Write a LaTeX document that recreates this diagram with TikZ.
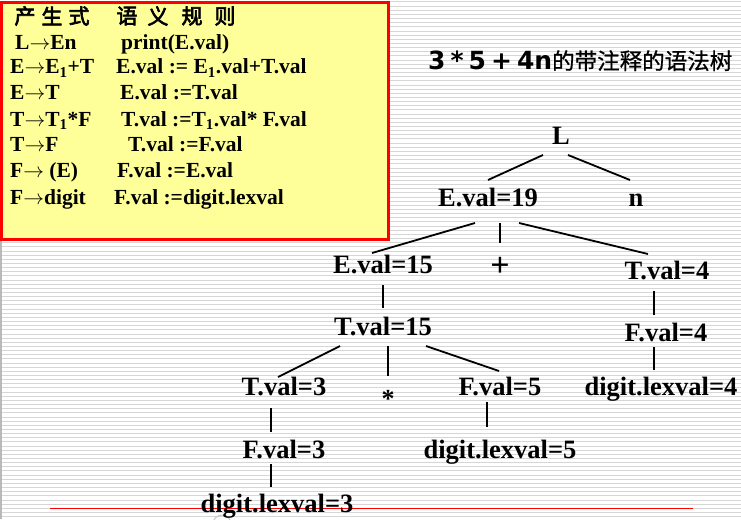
\documentclass[tikz,border=0pt]{standalone}
\usepackage{fontspec}
\setmainfont{Liberation Serif}
\newfontfamily\cjk{Noto Sans CJK SC}[FakeBold=0.8]
\newfontfamily\cjkb{Noto Sans CJK SC}[FakeBold=3]
\newfontfamily\dv{DejaVu Sans}
\usetikzlibrary{calc}
\definecolor{stripe}{RGB}{214,214,214}
\definecolor{boxyellow}{RGB}{255,255,153}
\newcommand\sbo{\textsubscript{1}}
\newcommand\ar{\ensuremath{\rightarrow}}
\tikzset{
 tn/.style={anchor=base, inner sep=0pt, font=\fontsize{26.5}{26.5}\selectfont\bfseries},
 rl/.style={anchor=base west, inner sep=0pt, font=\fontsize{21.5}{21.5}\selectfont\bfseries},
 hd/.style={anchor=center, inner sep=0pt, font=\fontsize{21}{21}\selectfont\cjkb},
 edge/.style={line width=1.8pt, black},
}
\begin{document}
\begin{tikzpicture}[x=1pt,y=-1pt]
\useasboundingbox (0,0) rectangle (741,519);
\fill[white] (0,0) rectangle (741,519);
\foreach \k in {0,...,124} \draw[stripe, line width=1pt] (0,{2+4.15*\k}) -- (741,{2+4.15*\k});
\draw[gray!55, line width=1.5pt] (1,240) -- (1,519);
% rule box
\draw[red, line width=2.7pt, fill=boxyellow] (1.5,2.8) rectangle (388.5,239.5);
\node[hd] (h1) at (25,16) {产};
\node[hd] (h2) at (52,16) {生};
\node[hd] (h3) at (79,16) {式};
\node[hd] (h4) at (127,16) {语};
\node[hd] (h5) at (158,16) {义};
\node[hd] (h6) at (192,16) {规};
\node[hd] (h7) at (225,16) {则};
\node[rl] (p1) at (15,49.3) {L\ar En};
\node[rl] (p2) at (10,74) {E\ar E\sbo+T};
\node[rl] (p3) at (10,99.3) {E\ar T};
\node[rl] (p4) at (10,126) {T\ar T\sbo*F};
\node[rl] (p5) at (10,151.7) {T\ar F};
\node[rl] (p6) at (10,177.7) {F\ar\ (E)};
\node[rl] (p7) at (10,204) {F\ar digit};
\node[rl] (s1) at (121,49.3) {print(E.val)};
\node[rl] (s2) at (116,74) {E.val := E\sbo.val+T.val};
\node[rl] (s3) at (120,99.3) {E.val :=T.val};
\node[rl] (s4) at (121,126) {T.val :=T\sbo.val* F.val};
\node[rl] (s5) at (128,151.7) {T.val :=F.val};
\node[rl] (s6) at (117,177.7) {F.val :=E.val};
\node[rl] (s7) at (114,204) {F.val :=digit.lexval};
% title
\node[anchor=base west, inner sep=0pt] (title) at (428,69.3) {\fontsize{25}{25}\selectfont\dv\bfseries 3\kern5pt*\kern5pt5\kern5pt+\kern5pt4n\cjk\mdseries\fontsize{22.5}{22.5}\selectfont 的带注释的语法树};
% bottom red line
\draw[red, line width=1.3pt] (50,508.5) -- (693,508.5);
\draw[gray!45, line width=1pt] (222,524) circle (9);
% tree
\node[tn] (L) at (561,144) {L};
\node[tn] (E19) at (488,206) {E.val=19};
\node[tn] (n) at (636,206) {n};
\node[tn] (E15) at (383,273) {E.val=15};
\node[anchor=base, inner sep=0pt, font=\fontsize{34}{34}\selectfont\bfseries] (plus) at (500,276.5) {+};
\node[tn] (T4) at (667,279) {T.val=4};
\node[tn] (T15) at (383,335) {T.val=15};
\node[tn] (F4) at (666,341) {F.val=4};
\node[tn] (T3) at (284,395) {T.val=3};
\node[anchor=base, inner sep=0pt, font=\fontsize{26}{26}\selectfont\bfseries] (star) at (388,407) {*};
\node[tn] (F5) at (500,395) {F.val=5};
\node[tn] (d4) at (661,395) {digit.lexval=4};
\node[tn] (F3) at (284,458) {F.val=3};
\node[tn] (d5) at (500,458) {digit.lexval=5};
\node[tn] (d3) at (277,512) {digit.lexval=3};
\draw[edge] ($(L.base)+(-18,11)$) -- ($(E19.base)+(0,-26)$);
\draw[edge] ($(L.base)+(7,11)$) -- ($(n.base)+(-6,-26)$);
\draw[edge] ($(E19.base)+(-13,17)$) -- ($(E15.base)+(-11,-20)$);
\draw[edge] ($(E19.base)+(12,17)$) -- ($(plus.base)+(0,-33.5)$);
\draw[edge] ($(E19.base)+(31,17)$) -- ($(T4.base)+(-19,-25)$);
\draw[edge] ($(E15.base)+(0,12)$) -- ($(T15.base)+(0,-27)$);
\draw[edge] ($(T4.base)+(-13,12)$) -- ($(F4.base)+(-12,-26)$);
\draw[edge] ($(F4.base)+(-12,6)$) -- ($(d4.base)+(-7,-25)$);
\draw[edge] ($(T15.base)+(-43,11)$) -- ($(T3.base)+(-6,-18)$);
\draw[edge] ($(T15.base)+(5,11)$) -- ($(star.base)+(0,-31)$);
\draw[edge] ($(T15.base)+(43,11)$) -- ($(F5.base)+(-1,-24)$);
\draw[edge] ($(T3.base)+(-13,13)$) -- ($(F3.base)+(-13,-26)$);
\draw[edge] ($(F5.base)+(-13,7)$) -- ($(d5.base)+(-13,-31)$);
\draw[edge] ($(F3.base)+(-13,6)$) -- ($(d3.base)+(-6,-25)$);
\end{tikzpicture}
\end{document}
